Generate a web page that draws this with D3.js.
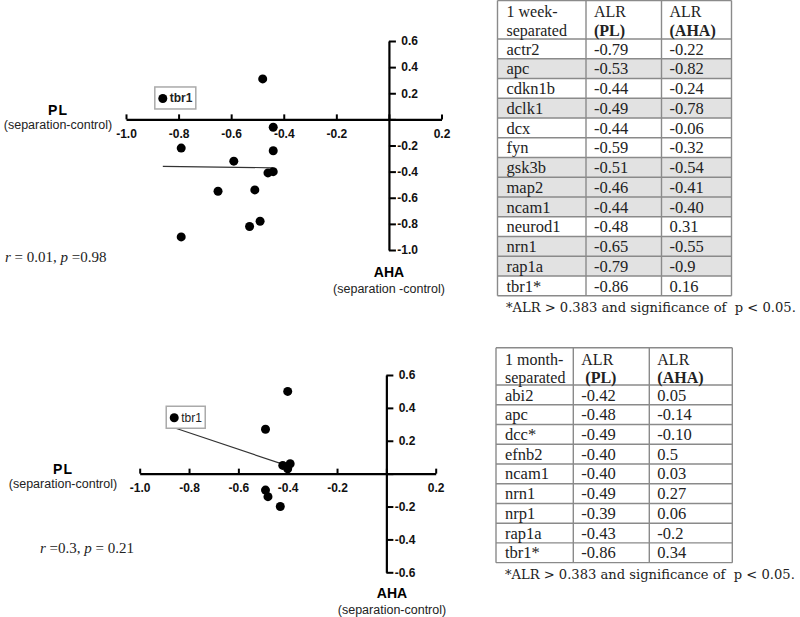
<!DOCTYPE html>
<html><head><meta charset="utf-8">
<script src="https://cdn.jsdelivr.net/npm/d3@7"></script>
<style>
html,body{margin:0;padding:0;background:#fff;}
svg{display:block;}
</style></head>
<body>
<svg id="c" width="800" height="617"></svg>
<script>
// ---- data ----
const weekGenes = ["actr2","apc","cdkn1b","dclk1","dcx","fyn","gsk3b","map2","ncam1","neurod1","nrn1","rap1a","tbr1*"];
const weekPLLabels = ["-0.79","-0.53","-0.44","-0.49","-0.44","-0.59","-0.51","-0.46","-0.44","-0.48","-0.65","-0.79","-0.86"];
const weekAHALabels = ["-0.22","-0.82","-0.24","-0.78","-0.06","-0.32","-0.54","-0.41","-0.40","0.31","-0.55","-0.9","0.16"];
const weekShaded = [false,true,false,true,false,false,true,true,true,false,true,true,false];
const weekPL = [-0.79,-0.53,-0.44,-0.49,-0.44,-0.59,-0.51,-0.46,-0.44,-0.48,-0.65,-0.79,-0.86];
const weekAHA = [-0.22,-0.82,-0.24,-0.78,-0.06,-0.32,-0.54,-0.41,-0.40,0.31,-0.55,-0.9,0.16];

const monthGenes = ["abi2","apc","dcc*","efnb2","ncam1","nrn1","nrp1","rap1a","tbr1*"];
const monthPLLabels = ["-0.42","-0.48","-0.49","-0.40","-0.40","-0.49","-0.39","-0.43","-0.86"];
const monthAHALabels = ["0.05","-0.14","-0.10","0.5","0.03","0.27","0.06","-0.2","0.34"];
const monthPL = [-0.42,-0.48,-0.49,-0.40,-0.40,-0.49,-0.39,-0.43,-0.86];
const monthAHA = [0.05,-0.14,-0.10,0.5,0.03,0.27,0.06,-0.2,0.34];

const xTicks = [-1.0,-0.8,-0.6,-0.4,-0.2,0,0.2];
const yTicksWeek = [0.6,0.4,0.2,0,-0.2,-0.4,-0.6,-0.8,-1.0];
const yTicksMonth = [0.6,0.4,0.2,0,-0.2,-0.4,-0.6];
const weekStats = ["r"," = 0.01, ","p"," =0.98"];
const monthStats = ["r"," =0.3, ","p"," = 0.21"];
const footnote = "*ALR > 0.383 and significance of  p < 0.05.";

const svg = d3.select("#c");
const SANS = "'Liberation Sans', Arial, sans-serif";
const SERIF = "'Liberation Serif', 'Times New Roman', serif";

function fmt(d){ return d === 0 ? "" : d.toFixed(1); }

function regression(xs, ys){
  const n = xs.length;
  const mx = d3.mean(xs), my = d3.mean(ys);
  let sxy = 0, sxx = 0;
  for (let i=0;i<n;i++){ sxy += (xs[i]-mx)*(ys[i]-my); sxx += (xs[i]-mx)*(xs[i]-mx); }
  const b = sxy/sxx, a = my - b*mx;
  return x => a + b*x;
}

function scatter(cfg){
  const g = svg.append("g");
  const x = d3.scaleLinear().domain([-1,0.2]).range(cfg.xr);
  const y = d3.scaleLinear().domain(cfg.yd).range(cfg.yr);
  const xa = g.append("g").attr("transform",`translate(0,${y(0)})`)
    .call(d3.axisBottom(x).tickValues(xTicks).tickFormat(fmt).tickSizeInner(-5).tickSizeOuter(0).tickPadding(10));
  const ya = g.append("g").attr("transform",`translate(${x(0)},0)`)
    .call(d3.axisRight(y).tickValues(cfg.yTicks).tickFormat(fmt).tickSizeInner(7).tickSizeOuter(0));
  ya.selectAll("text").attr("x",29).attr("text-anchor","end");
  [xa,ya].forEach(a=>{
    a.select(".domain").attr("stroke","#000").attr("stroke-width",2.2);
    a.selectAll(".tick line").attr("stroke","#000").attr("stroke-width",2);
    a.selectAll("text").attr("fill","#111").style("font-family",SANS).style("font-size","12px").style("font-weight","bold");
  });
  const f = regression(cfg.xs, cfg.ys);
  const x0 = d3.min(cfg.xs), x1 = d3.max(cfg.xs);
  g.append("line").attr("x1",x(x0)).attr("y1",y(f(x0))).attr("x2",x(x1)).attr("y2",y(f(x1)))
    .attr("stroke","#333").attr("stroke-width",1.2);
  const ti = cfg.genes.indexOf("tbr1*");
  const tx = x(cfg.xs[ti]), ty = y(cfg.ys[ti]);
  g.append("rect").attr("x",tx-8).attr("y",ty-11.5).attr("width",cfg.boxW).attr("height",22)
    .attr("fill","#fff").attr("stroke","#aaa").attr("stroke-width",1.5);
  g.append("text").attr("x",tx+7).attr("y",ty+4).text("tbr1")
    .style("font-family",SANS).style("font-size","12px").style("font-weight",cfg.tbrW).attr("fill","#222");
  g.selectAll("circle.pt").data(cfg.xs.map((v,i)=>[v,cfg.ys[i]])).enter().append("circle")
    .attr("class","pt").attr("cx",d=>x(d[0])).attr("cy",d=>y(d[1])).attr("r",4.5).attr("fill","#000");
  g.append("text").attr("x",cfg.plX).attr("y",cfg.plY).attr("text-anchor","middle").text("PL")
    .style("font-family",SANS).style("font-size","14px").style("font-weight","bold").style("letter-spacing","1px");
  g.append("text").attr("x",cfg.plX).attr("y",cfg.plY+14).attr("text-anchor","middle").text("(separation-control)")
    .style("font-family",SANS).style("font-size","12.5px").attr("fill","#222");
  g.append("text").attr("x",cfg.ahaX).attr("y",cfg.ahaY).attr("text-anchor","middle").text("AHA")
    .style("font-family",SANS).style("font-size","14px").style("font-weight","bold");
  g.append("text").attr("x",cfg.ahaX).attr("y",cfg.ahaY+16).attr("text-anchor","middle").text(cfg.ahaSub)
    .style("font-family",SANS).style("font-size","12.5px").attr("fill","#222");
  const st = g.append("text").attr("x",cfg.stX).attr("y",cfg.stY)
    .style("font-family",SERIF).style("font-size","15px").attr("fill","#222");
  cfg.stats.forEach((s,i)=>{ st.append("tspan").text(s).style("font-style", (i%2===0)?"italic":"normal"); });
}

scatter({xr:[126,441.5], yd:[-1,0.6], yr:[250,41], yTicks:yTicksWeek, xs:weekPL, ys:weekAHA, genes:weekGenes,
  boxW:41, tbrW:"bold", plX:58, plY:115, ahaX:389, ahaY:277, ahaSub:"(separation -control)", stX:5, stY:262, stats:weekStats});
scatter({xr:[139.7,435.7], yd:[-0.6,0.6], yr:[572.3,375], yTicks:yTicksMonth, xs:monthPL, ys:monthAHA, genes:monthGenes,
  boxW:39, tbrW:"normal", plX:63, plY:474, ahaX:392, ahaY:598, ahaSub:"(separation-control)", stX:40, stY:553, stats:monthStats});

function table(cfg){
  const g = svg.append("g");
  const [c0,c1,c2,c3] = cfg.cols;
  const rows = cfg.genes.length;
  const rh = cfg.rowH;
  cfg.genes.forEach((gname,i)=>{
    if (cfg.shaded && cfg.shaded[i]) g.append("rect").attr("x",c0).attr("y",cfg.hb+i*rh).attr("width",c3-c0).attr("height",rh).attr("fill","#e2e2e2");
  });
  const bottom = cfg.hb + rows*rh;
  const lc = "#8a8a8a";
  const hy = [cfg.top, cfg.hb].concat(d3.range(1,rows+1).map(i=>cfg.hb+i*rh));
  hy.forEach(yv=> g.append("line").attr("x1",c0).attr("x2",c3).attr("y1",yv).attr("y2",yv).attr("stroke",lc).attr("stroke-width",1.4));
  [c0,c1,c2,c3].forEach(xv=> g.append("line").attr("x1",xv).attr("x2",xv).attr("y1",cfg.top).attr("y2",bottom).attr("stroke",lc).attr("stroke-width",1.4));
  const ts = (sel,size)=> sel.style("font-family",SERIF).style("font-size",(size||16.5)+"px").attr("fill","#222");
  function header(xv, l1, l2, l2x, bold){
    ts(g.append("text").attr("x",xv).attr("y",cfg.top+16.8).text(l1),16);
    ts(g.append("text").attr("x",l2x).attr("y",cfg.top+35.6).text(l2),16).style("font-weight",bold?"bold":"normal");
  }
  header(c0+9, cfg.h1, "separated", c0+9, false);
  header(c1+8, "ALR", "(PL)", c1+8+cfg.plShift, true);
  header(c2+8, "ALR", "(AHA)", c2+8, true);
  cfg.genes.forEach((gname,i)=>{
    const by = cfg.hb + i*rh + 15.5;
    ts(g.append("text").attr("x",c0+9).attr("y",by).text(gname));
    ts(g.append("text").attr("x",c1+8).attr("y",by).text(cfg.pl[i]));
    ts(g.append("text").attr("x",c2+8).attr("y",by).text(cfg.aha[i]));
  });
  g.append("text").attr("x",cfg.fnX).attr("y",bottom+16).text(footnote)
    .attr("xml:space","preserve").style("white-space","pre")
    .style("font-family","'DejaVu Serif', serif").style("font-size","13.1px").attr("fill","#222");
}

table({cols:[497.5,586,661.5,731.5], top:0.5, hb:39, rowH:19.75, genes:weekGenes, pl:weekPLLabels, aha:weekAHALabels,
  shaded:weekShaded, h1:"1 week-", plShift:0, fnX:506});
table({cols:[496,573.3,649.3,732.3], top:347.7, hb:385, rowH:19.74, genes:monthGenes, pl:monthPLLabels, aha:monthAHALabels,
  shaded:null, h1:"1 month-", plShift:4, fnX:505});
</script>
</body></html>
